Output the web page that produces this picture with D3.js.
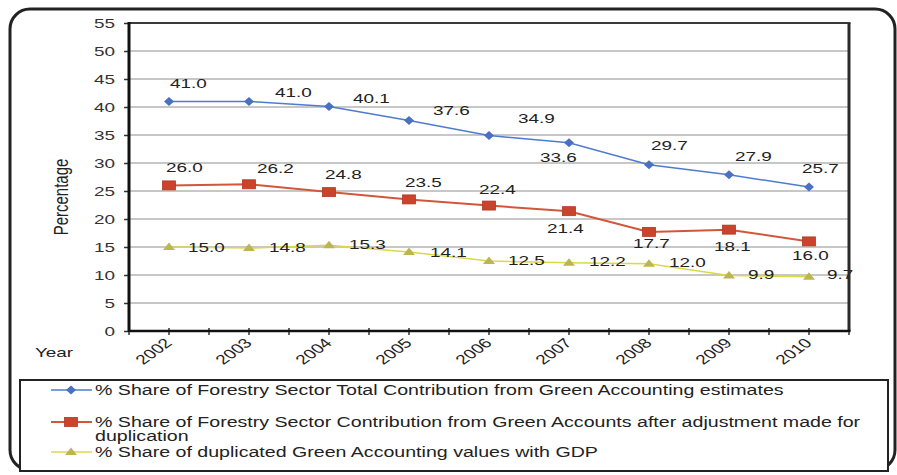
<!DOCTYPE html>
<html>
<head>
<meta charset="utf-8">
<script src="https://cdn.jsdelivr.net/npm/d3@7/dist/d3.min.js"></script>
<style>
  html, body { margin: 0; padding: 0; background: #fff; }
  svg { display: block; }
  text { font-family: "Liberation Sans", Arial, sans-serif; }
</style>
</head>
<body>
<svg id="chart" width="897" height="475"></svg>
<script>
// Forestry sector shares, 2002–2010
const years = ["2002", "2003", "2004", "2005", "2006", "2007", "2008", "2009", "2010"];
const totalShare = [41.0, 41.0, 40.1, 37.6, 34.9, 33.6, 29.7, 27.9, 25.7];
const adjustedShare = [26.0, 26.2, 24.8, 23.5, 22.4, 21.4, 17.7, 18.1, 16.0];
const duplicatedShare = [15.0, 14.8, 15.3, 14.1, 12.5, 12.2, 12.0, 9.9, 9.7];
const yTickValues = [0, 5, 10, 15, 20, 25, 30, 35, 40, 45, 50, 55];
const legendLabels = [
  ["% Share of Forestry Sector Total Contribution from Green Accounting estimates"],
  ["% Share of Forestry Sector Contribution from Green Accounts after adjustment made for", "duplication"],
  ["% Share of duplicated Green Accounting values with GDP"]
];

// Hand-placed value label offsets (left edge, baseline) relative to each point
const totalLabelOffsets = [[1,-13],[26,-4],[24,-3],[24,-5],[29,-13],[-29,19],[2,-15],[6,-14],[-7,-14]];
const adjustedLabelOffsets = [[-3,-13],[8,-11],[-4,-13],[-4,-12],[-10,-12],[-22,22],[-16,16],[-15,21],[-17,19]];
const duplicatedLabelOffsets = [[19,5],[20,4],[20,4],[21,5],[19,4],[20,3],[20,3],[19,3],[18,2]];

const WIDE = 1.4; // horizontal stretch applied to all lettering

const svg = d3.select("#chart");

const plot = { left: 129, right: 849, top: 23, bottom: 331 };

const x = d3.scalePoint().domain(years).range([plot.left, plot.right]).padding(0.5);
const xBand = d3.scaleBand().domain(years).range([plot.left, plot.right]);
const y = d3.scaleLinear().domain([0, 55]).range([plot.bottom, plot.top]);

// stretched text helper
function wideText(g, str, px, py, opts = {}) {
  const t = g.append("text")
    .attr("transform", `translate(${px},${py}) scale(${WIDE},1)` + (opts.rotate ? ` rotate(${opts.rotate})` : ""))
    .attr("font-size", opts.size || 13.5)
    .attr("fill", opts.fill || "#222")
    .attr("text-anchor", opts.anchor || "start")
    .text(str);
  return t;
}

// outer frame
svg.append("rect")
  .attr("x", 10).attr("y", 9).attr("width", 885).attr("height", 461)
  .attr("rx", 20).attr("ry", 20)
  .attr("fill", "#fff").attr("stroke", "#222").attr("stroke-width", 3);

// horizontal gridlines
svg.append("g")
  .selectAll("line")
  .data(yTickValues.filter(v => v > 0 && v < 55))
  .join("line")
  .attr("x1", plot.left).attr("x2", plot.right)
  .attr("y1", d => y(d)).attr("y2", d => y(d))
  .attr("stroke", "#8f8f8f").attr("stroke-width", 1);

// y axis ticks
const yAxis = d3.axisLeft(y).tickValues(yTickValues).tickSize(5).tickFormat("");
const yG = svg.append("g").attr("transform", `translate(${plot.left},0)`).call(yAxis);
yG.select(".domain").remove();
yG.selectAll(".tick line").attr("stroke", "#333").attr("stroke-width", 1.5);

const yLabels = svg.append("g");
yTickValues.forEach(v => {
  wideText(yLabels, String(v), 115, y(v) + 5, { anchor: "end", fill: "#333" });
});

// x axis ticks at categories and at band edges
const xTickPositions = years.map(d => x(d))
  .concat(years.map(d => xBand(d)))
  .concat([xBand(years[years.length - 1]) + xBand.bandwidth()]);
svg.append("g")
  .selectAll("line")
  .data(xTickPositions)
  .join("line")
  .attr("x1", d => d).attr("x2", d => d)
  .attr("y1", plot.bottom - 3).attr("y2", plot.bottom + 4)
  .attr("stroke", "#333").attr("stroke-width", 1.5);

const xLabels = svg.append("g");
years.forEach(d => {
  wideText(xLabels, d, x(d) + 4, plot.bottom + 13, { anchor: "end", rotate: -45, fill: "#222" });
});

// axis titles
wideText(svg, "Year", 35, 357, { fill: "#222" });
wideText(svg, "Percentage", 68, 197, { anchor: "middle", rotate: -90, size: 15, fill: "#222" });

// series
const series = [
  { values: totalShare, offsets: totalLabelOffsets, line: "#4f7bcc", lw: 1.5, marker: "diamond", fill: "#4a70c2" },
  { values: adjustedShare, offsets: adjustedLabelOffsets, line: "#d2573a", lw: 2, marker: "square", fill: "#c9432d" },
  { values: duplicatedShare, offsets: duplicatedLabelOffsets, line: "#dcd84a", lw: 1.5, marker: "triangle", fill: "#bdb550" }
];

const lineGen = d3.line().x((d, i) => x(years[i])).y(d => y(d));

function drawMarker(g, kind, fill, cx, cy) {
  if (kind === "diamond") {
    g.append("path").attr("d", `M${cx},${cy - 4.5} L${cx + 5},${cy} L${cx},${cy + 4.5} L${cx - 5},${cy} Z`)
      .attr("fill", fill);
  } else if (kind === "square") {
    g.append("rect").attr("x", cx - 6.5).attr("y", cy - 4.5).attr("width", 13).attr("height", 9)
      .attr("fill", fill).attr("stroke", "#b23822").attr("stroke-width", 0.8);
  } else {
    g.append("path").attr("d", `M${cx},${cy - 4.5} L${cx + 6},${cy + 3} L${cx - 6},${cy + 3} Z`)
      .attr("fill", fill);
  }
}

series.forEach(s => {
  svg.append("path").datum(s.values)
    .attr("d", lineGen)
    .attr("fill", "none").attr("stroke", s.line).attr("stroke-width", s.lw);
  const mg = svg.append("g");
  s.values.forEach((v, i) => drawMarker(mg, s.marker, s.fill, x(years[i]), y(v)));
});

const valueLabels = svg.append("g");
series.forEach(s => {
  s.values.forEach((v, i) => {
    const [dx, dy] = s.offsets[i];
    wideText(valueLabels, v.toFixed(1), x(years[i]) + dx, y(v) + dy, { fill: "#222" });
  });
});

// plot frame: thin top/right, heavy left/bottom axes
svg.append("line").attr("x1", plot.left).attr("x2", plot.right + 1.5).attr("y1", plot.top).attr("y2", plot.top)
  .attr("stroke", "#3a3a3a").attr("stroke-width", 2);
svg.append("line").attr("x1", plot.right).attr("x2", plot.right).attr("y1", plot.top).attr("y2", plot.bottom)
  .attr("stroke", "#2a2a2a").attr("stroke-width", 3);
svg.append("line").attr("x1", plot.left).attr("x2", plot.right + 1.5).attr("y1", plot.bottom).attr("y2", plot.bottom)
  .attr("stroke", "#111").attr("stroke-width", 2.5);
svg.append("line").attr("x1", plot.left).attr("x2", plot.left).attr("y1", plot.top - 1).attr("y2", plot.bottom + 1)
  .attr("stroke", "#111").attr("stroke-width", 3);

// legend
const legend = svg.append("g");
legend.append("rect").attr("x", 20).attr("y", 380).attr("width", 868).attr("height", 91)
  .attr("fill", "#fff").attr("stroke", "#222").attr("stroke-width", 2);

const legendRows = [390, 422, 452];
series.forEach((s, i) => {
  const ly = legendRows[i];
  legend.append("line").attr("x1", 51).attr("x2", 92).attr("y1", ly).attr("y2", ly)
    .attr("stroke", s.line).attr("stroke-width", s.lw);
  drawMarker(legend, s.marker, s.fill, 71, ly);
  legendLabels[i].forEach((str, k) => {
    wideText(legend, str, 95, ly + 5 + k * 14, { size: 14, fill: "#222" });
  });
});
</script>
</body>
</html>
